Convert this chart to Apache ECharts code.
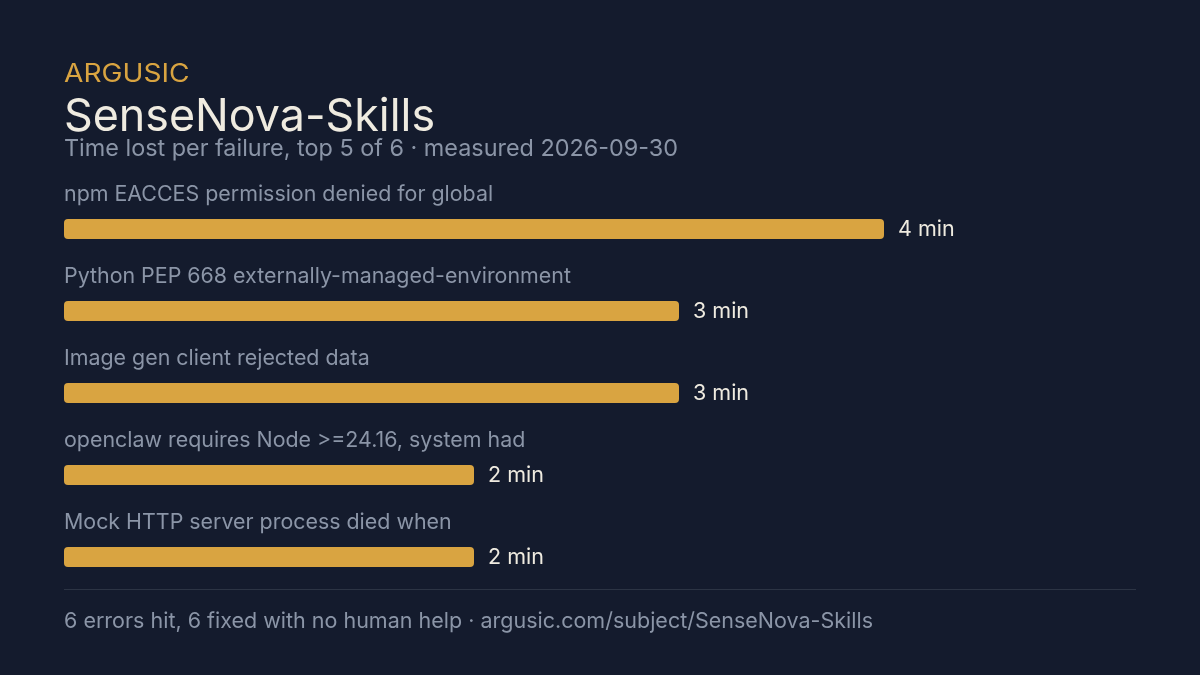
<!DOCTYPE html>
<html>
<head>
<meta charset="utf-8">
<style>html,body{margin:0;padding:0;background:#141b2d}#main{width:1200px;height:675px}</style>
<script src="https://cdn.jsdelivr.net/npm/echarts@6/dist/echarts.min.js"></script>
</head>
<body>
<div id="main"></div>
<script>
const eyebrow = 'ARGUSIC';
const title = 'SenseNova-Skills';
const subtitle = 'Time lost per failure, top 5 of 6 · measured 2026-09-30';
const footer = '6 errors hit, 6 fixed with no human help · argusic.com/subject/SenseNova-Skills';
const categories = [
  'npm EACCES permission denied for global',
  'Python PEP 668 externally-managed-environment',
  'Image gen client rejected data',
  'openclaw requires Node >=24.16, system had',
  'Mock HTTP server process died when'
];
const minutes = [4, 3, 3, 2, 2];

const font = 'Inter';
const grey = '#8b95a7';
const gold = '#d9a441';
const cream = '#efebe0';
const chart = echarts.init(document.getElementById('main'));
chart.setOption({
  backgroundColor: '#141b2d',
  animation: false,
  textStyle: { fontFamily: font },
  title: [
    { text: title, left: 64, top: 95, padding: 0, textStyle: { color: cream, fontSize: 44.8, fontWeight: 400, fontFamily: font } },
    { text: subtitle, left: 64, top: 137, padding: 0, textStyle: { color: grey, fontSize: 23.4, fontWeight: 400, fontFamily: font } },
    { text: footer, left: 64, top: 611, padding: 0, textStyle: { color: grey, fontSize: 21.5, fontWeight: 400, fontFamily: font } }
  ],
  grid: { left: 64, top: 188, width: 1025, height: 410, containLabel: false },
  xAxis: { type: 'value', min: 0, max: 5, show: false },
  yAxis: { type: 'category', inverse: true, data: categories, show: false },
  series: [{
    type: 'bar',
    data: minutes,
    barWidth: 20,
    itemStyle: { color: gold, borderRadius: 4 },
    label: {
      show: true,
      position: 'right',
      distance: 14,
      offset: [0, 1],
      formatter: '{c} min',
      color: cream,
      fontSize: 21.5,
      fontFamily: font
    },
    silent: true
  }, {
    // category names sit above each bar, drawn from the same axis
    type: 'bar',
    data: minutes.map(() => 0),
    barWidth: 20,
    barGap: '-100%',
    itemStyle: { color: 'transparent' },
    label: {
      show: true,
      position: 'insideLeft',
      offset: [-5, -34],
      formatter: p => categories[p.dataIndex],
      color: grey,
      fontSize: 21.4,
      fontFamily: font
    },
    silent: true
  }],
  graphic: [{
    // eyebrow is letterspaced in the original, stretch it a bit
    type: 'text',
    x: 64,
    y: 62,
    scaleX: 1.125,
    style: { text: eyebrow, fill: gold, fontSize: 25, fontFamily: font, fontWeight: 400 }
  }, {
    type: 'line',
    shape: { x1: 64, y1: 589.5, x2: 1136, y2: 589.5 },
    style: { stroke: '#2c3444', lineWidth: 1 }
  }]
});
</script>
</body>
</html>
